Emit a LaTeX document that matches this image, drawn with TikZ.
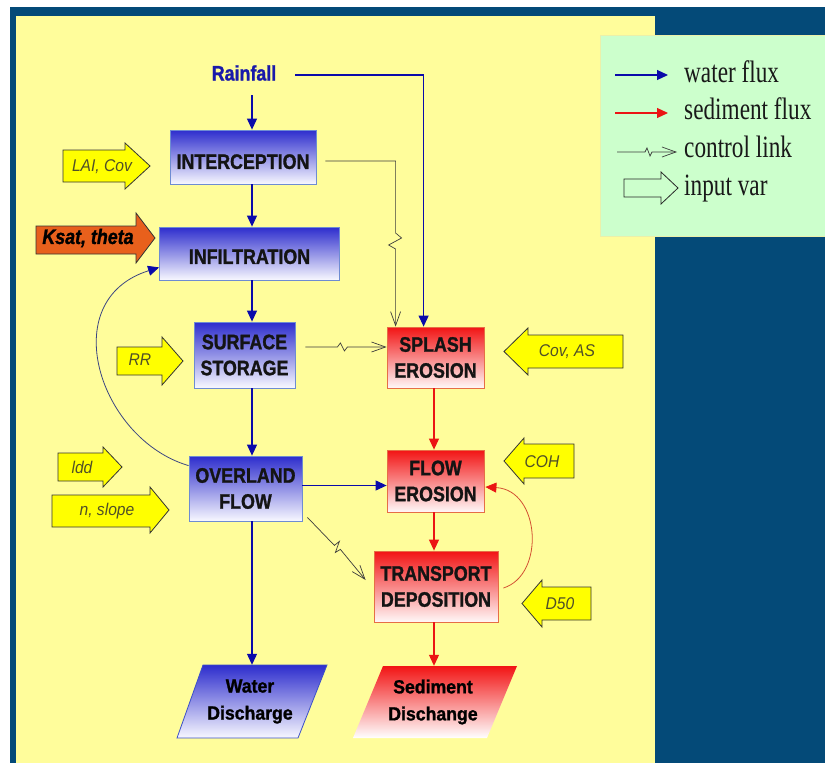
\documentclass[tikz,border=0pt]{standalone}
\usepackage{fontspec}
\setmainfont{Liberation Sans}
\newfontfamily\boxfont{Liberation Sans}[FakeStretch=0.85,FakeBold=1.2]
\newfontfamily\arrfont{Liberation Sans}[FakeStretch=0.92]
\newfontfamily\outfont{Liberation Sans}[FakeStretch=0.93,FakeBold=1.2]
\newfontfamily\legfont{Liberation Serif}[FakeStretch=0.75]
\usetikzlibrary{arrows.meta,calc}

\definecolor{bgblue}{RGB}{4,74,120}
\definecolor{bgyellow}{RGB}{255,253,155}
\definecolor{leggreen}{RGB}{204,255,204}
\definecolor{legborder}{RGB}{235,240,170}
\definecolor{topblue}{RGB}{45,45,205}
\definecolor{botblue}{RGB}{248,248,255}
\definecolor{edgeblue}{RGB}{110,140,210}
\definecolor{wdedge}{RGB}{60,80,200}
\definecolor{topred}{RGB}{242,20,20}
\definecolor{botred}{RGB}{255,248,248}
\definecolor{edgered}{RGB}{230,110,70}
\definecolor{wblue}{RGB}{10,10,170}
\definecolor{sred}{RGB}{235,20,20}
\definecolor{ctrlgrey}{RGB}{60,60,60}
\definecolor{curveblue}{RGB}{60,70,130}
\definecolor{curvered}{RGB}{210,80,50}
\definecolor{inyellow}{RGB}{255,255,0}
\definecolor{inorange}{RGB}{232,96,28}
\definecolor{intext}{RGB}{80,80,40}
\definecolor{boxtext}{RGB}{20,20,20}
\definecolor{raintext}{RGB}{25,25,170}

\newcommand\blockarrow[8]{%
  \path[#1] (#2,#5) -- (#3,#5) -- (#3,#7) -- (#4,{(#7+#8)/2}) -- (#3,#8) -- (#3,#6) -- (#2,#6) -- cycle;}

\begin{document}
\begin{tikzpicture}[x=1pt,y=-1pt,
  boxlabel/.style={font=\boxfont\bfseries\fontsize{21}{26}\selectfont, text=boxtext, align=center, inner sep=0pt},
  bluebox/.style={boxlabel, draw=edgeblue, line width=0.8pt, top color=topblue, bottom color=botblue},
  redbox/.style={boxlabel, draw=edgered, line width=0.8pt, top color=topred, bottom color=botred},
  outlabel/.style={font=\outfont\bfseries\fontsize{19}{27}\selectfont, text=black, align=center, inner sep=0pt, minimum width=10pt},
  wf/.style={draw=wblue, line width=1.1pt, -{Triangle[length=11pt,width=10pt]}},
  sf/.style={draw=sred, line width=1.1pt, -{Triangle[length=11pt,width=10pt]}},
  ctrl/.style={draw=ctrlgrey, line width=0.7pt, line join=miter, -{Straight Barb[length=14pt,width=10pt]}},
  bcurve/.style={draw=curveblue, line width=0.8pt, -{Triangle[length=11pt,width=10pt,color=wblue]}},
  rcurve/.style={draw=curvered, line width=0.8pt, -{Triangle[length=11pt,width=10pt,color=sred]}},
  inarr/.style={fill=inyellow, draw=black!80, line width=0.8pt},
  inarrorange/.style={fill=inorange, draw=black!80, line width=0.8pt},
  legarr/.style={draw=black!85, line width=0.8pt},
  intextstyle/.style={font=\arrfont\itshape\fontsize{17}{17}\selectfont, text=intext, inner sep=0pt},
  ksatstyle/.style={font=\boxfont\bfseries\itshape\fontsize{21}{21}\selectfont, text=black, inner sep=0pt},
  legtext/.style={font=\legfont\fontsize{31}{31}\selectfont, text=black!90, anchor=base west, inner sep=0pt}
]
% background
\fill[white] (0,0) rectangle (825,763);
\fill[bgblue] (10,7) rectangle (825,763);
\fill[bgyellow] (16,16) rectangle (655,763);
\useasboundingbox (0,0) rectangle (825,763);

% legend
\filldraw[fill=leggreen, draw=legborder, line width=1pt] (600,35) rectangle (830,236);
\coordinate (lw0) at (615,75); \coordinate (lw1) at (668,75);
\draw[wf] (lw0) -- (lw1);
\coordinate (ls0) at (615,113); \coordinate (ls1) at (668,113);
\draw[sf] (ls0) -- (ls1);
\coordinate (lc0) at (617,152); \coordinate (lc1) at (677,152);
\draw[ctrl] (lc0) -- ++(28,0) -- ++(2,-4) -- ++(3,8) -- ++(2,-4) -- (lc1);
\blockarrow{legarr}{624}{661}{678}{179}{197}{172}{204}
\node[legtext] (lgw) at (684,82) {water flux};
\node[legtext] (lgs) at (684,119) {sediment flux};
\node[legtext] (lgc) at (684,157) {control link};
\node[legtext] (lgi) at (684,195) {input var};

% input arrows
\blockarrow{inarr}{63}{125}{150}{150}{182}{143}{189}
\blockarrow{inarrorange}{36}{136}{155}{226}{254}{213}{263}
\blockarrow{inarr}{117}{162}{183}{347}{375}{337}{385}
\blockarrow{inarr}{58}{103}{122}{453}{481}{447}{487}
\blockarrow{inarr}{52}{150}{169}{495}{527}{487}{533}
\blockarrow{inarr}{623}{528}{504}{335}{368}{328}{375}
\blockarrow{inarr}{574}{524}{504}{444}{478}{438}{484}
\blockarrow{inarr}{591}{542}{522}{587}{620}{580}{627}
\node[intextstyle] (lai) at (102,167) {LAI, Cov};
\node[ksatstyle] (ksat) at (88,238) {Ksat, theta};
\node[intextstyle] (rr) at (140,360) {RR};
\node[intextstyle] (ldd) at (82,467) {ldd};
\node[intextstyle] (nsl) at (107,511) {n, slope};
\node[intextstyle] (covas) at (567,352) {Cov, AS};
\node[intextstyle] (coh) at (542,462) {COH};
\node[intextstyle] (d50) at (560,604) {D50};

% process boxes
\node[font=\boxfont\bfseries\fontsize{21}{21}\selectfont, text=raintext, inner sep=0pt] (rain) at (244,73) {Rainfall};
\node[bluebox, minimum width=146pt, minimum height=54pt, text height=24pt] (icp) at (243,157) {INTERCEPTION};
\node[bluebox, minimum width=180pt, minimum height=53pt, text height=21pt] (inf) at (249.5,253.5) {INFILTRATION};
\node[bluebox, minimum width=101pt, minimum height=66pt] (ss) at (244.5,355) {SURFACE\\STORAGE};
\node[bluebox, minimum width=113pt, minimum height=65pt] (ov) at (245.5,488.5) {OVERLAND\\FLOW};
\node[redbox, minimum width=97pt, minimum height=61pt] (sp) at (435.5,357.5) {SPLASH\\EROSION};
\node[redbox, minimum width=97pt, minimum height=62pt] (fe) at (435.5,481) {FLOW\\EROSION};
\node[redbox, minimum width=124pt, minimum height=71pt] (td) at (436,586.5) {TRANSPORT\\DEPOSITION};

% outputs
\path[top color=topblue, bottom color=botblue, draw=wdedge, line width=0.8pt] (203,665) -- (327,665) -- (298,738) -- (177,738) -- cycle;
\path[top color=topred, bottom color=white] (383,666) -- (517,666) -- (487,738) -- (353,738) -- cycle;
\node[outlabel, minimum height=73pt] (wd) at (250,701.5) {Water\\Discharge};
\node[outlabel, minimum height=72pt] (sd) at (433,702) {Sediment\\Dischange};

% water flux
\coordinate (ax) at (252,95);
\draw[wf] (ax) -- (ax |- icp.north);
\draw[wf] (icp.south -| ax) -- (inf.north -| ax);
\draw[wf] (inf.south -| ax) -- (ss.north -| ax);
\draw[wf] (ss.south -| ax) -- (ov.north -| ax);
\draw[wf] (ov.south -| ax) -- (wd.north -| ax);
\coordinate (r0) at (295,75);
\coordinate (c3) at ([xshift=37pt]sp.north west);
\draw[wf] (r0) -- (r0 -| c3) -- (c3);
\coordinate (oy) at ([yshift=3pt]ov.east);
\draw[wf] (oy) -- (oy -| fe.west);
\coordinate (b0) at ([yshift=-10pt]ov.north west);
\coordinate (b1) at ([yshift=13pt]inf.south west);
\draw[bcurve] (b0) .. controls +(-89,-26) and +(-105,33) .. (b1);

% sediment flux
\coordinate (rx) at (434,0);
\draw[sf] (sp.south -| rx) -- (fe.north -| rx);
\draw[sf] (fe.south -| rx) -- (td.north -| rx);
\draw[sf] (td.south -| rx) -- (sd.north -| rx);
\coordinate (e0) at ([xshift=5pt,yshift=-1.5pt]td.east);
\coordinate (e1) at ([xshift=1pt,yshift=-6pt]fe.east);
\draw[rcurve] (e0) .. controls +(42,-13) and +(55,3) .. (e1);

% control links
\coordinate (c1) at ([xshift=10pt,yshift=8pt]ss.east);
\draw[ctrl] (c1) -- ++(32,0) -- ++(3,-4) -- ++(4,8) -- ++(3,-4) -- (c1 -| sp.west);
\coordinate (c0) at ([xshift=9pt,yshift=-4pt]icp.east);
\coordinate (c2) at ([xshift=9pt]sp.north west);
\draw[ctrl] (c0) -- (c0 -| c2) -- ++(0,72) -- ++(6,5) -- ++(-13,7) -- ++(7,4) -- (c2);
\coordinate (d0) at ([xshift=5pt,yshift=4pt]ov.south east);
\coordinate (d1) at ([xshift=-8pt,yshift=6.5pt]td.west);
\draw[ctrl] (d0) -- ++(27,28) -- ++(5,-4) -- ++(-4,11) -- ++(5,-3) -- (d1);
\end{tikzpicture}
\end{document}
